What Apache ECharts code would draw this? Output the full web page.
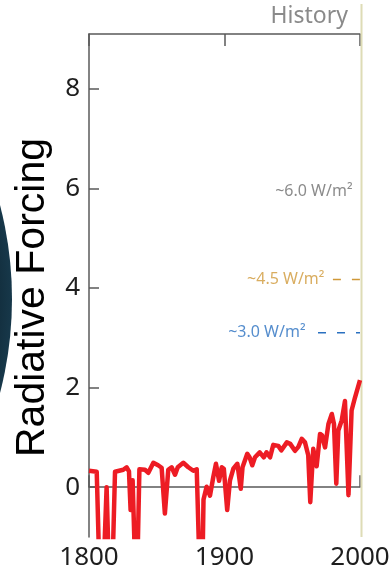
<!DOCTYPE html>
<html><head><meta charset="utf-8">
<script src="https://cdn.jsdelivr.net/npm/echarts@6/dist/echarts.min.js"></script>
<style>html,body{margin:0;padding:0;background:#fff}#c{width:390px;height:577px}</style>
</head><body><div id="c"></div>
<script>
// Historical radiative forcing (W/m²)
const years = [1800,1805.7,1809,1813,1816,1819.2,1825.3,1827.8,1829.5,1830.7,1832.2,1835,1837.2,1841.3,1843.8,1847.5,1851,1853.6,1856,1858.5,1861,1863.5,1865.5,1869.6,1873.3,1877,1879.5,1883,1884.5,1886.8,1889.3,1891.7,1893.7,1896,1898,1899.5,1902,1904,1906.5,1909.5,1912,1913.3,1916.8,1918.5,1920.5,1922.5,1926,1929,1931,1933.6,1936,1939.7,1942,1946,1948.5,1952,1954.5,1957,1959.4,1961.8,1963.3,1965.5,1968,1970.5,1972,1974.2,1976.7,1979.2,1980.8,1982.5,1984,1986.5,1988.9,1990,1991.5,1993.8,1996.3,2000];
const forcing = [0.33,0.31,-3,0,-3,0.31,0.35,0.40,0.32,-0.46,0.14,-2.5,0.36,0.35,0.29,0.49,0.44,0.39,-0.53,0.35,0.40,0.25,0.40,0.49,0.40,0.33,0.36,-3,-0.25,0.01,-0.17,0.20,0.47,0.13,0.40,0.37,-0.46,0.13,0.37,0.47,-0.03,0.40,0.67,0.60,0.44,0.60,0.70,0.60,0.70,0.60,0.85,0.83,0.74,0.90,0.87,0.73,0.81,0.97,0.90,0.64,-0.30,0.77,0.42,1.07,1.04,0.80,1.27,1.47,1.27,0.07,1.14,1.34,1.73,1.73,-0.16,1.54,1.80,2.15];
const yTicks = [0,2,4,6,8];
const xTicks = [1800,1900,2000];
// Scenario markers (RCP levels)
const rcpLabels = ['~6.0 W/m²','~4.5 W/m²','~3.0 W/m²'];
const rcpLevels = [5.93, 4.17, 3.1];
const rcpStart = [2000, 1980, 1969];
const rcpEnd = 2000;
const rcpColors = ['#6e6e6e','#cf9838','#2a70c0'];
const rcpLabelGap = [7, 8, 12];

const chart = echarts.init(document.getElementById('c'), null, {renderer:'canvas'});
const axisCol = '#5a5a5a';
const tickFont = 'Noto Sans';

const series = [{
  type:'line', data: years.map((y,i)=>[y, forcing[i]]), symbol:'none', clip:true,
  lineStyle:{color:'#ed1c24', width:4.5, join:'round'}, z:5
}];
rcpLabels.forEach((lab,i)=>{
  if (rcpStart[i] < rcpEnd) {
    series.push({type:'line', data:[[rcpStart[i], rcpLevels[i]],[rcpEnd, rcpLevels[i]]], symbol:'none',
      lineStyle:{color:rcpColors[i], width:1.5, type:[8,11]}, z:3});
  }
  series.push({type:'scatter', data:[[rcpStart[i], rcpLevels[i]]], symbolSize:1,
    itemStyle:{color:'rgba(0,0,0,0)'}, z:4,
    label:{show:true, position:'left', distance:rcpLabelGap[i], formatter:lab,
      color:rcpColors[i], fontFamily:tickFont, fontSize:16}});
});

chart.setOption({
  animation:false,
  title:{text:'History', right:37, top:0, textStyle:{fontFamily:tickFont, fontSize:23, fontWeight:'normal', color:'#8a8a8a'}},
  grid:{left:89, right:30, top:34, bottom:40, outerBoundsMode:'none', containLabel:false},
  xAxis:[{
    type:'value', min:1800, max:2000, interval:100,
    axisLine:{lineStyle:{color:axisCol, width:1.5}},
    axisTick:{inside:true, length:12, lineStyle:{color:axisCol, width:1.5}},
    axisLabel:{customValues:xTicks, formatter:v=>String(v), fontFamily:tickFont, fontSize:26, color:'#1e1e1e', margin:8},
    splitLine:{show:false}
  },{
    type:'value', position:'top', min:1800, max:2000, interval:100,
    axisLine:{lineStyle:{color:axisCol, width:1.5}},
    axisTick:{inside:true, length:12, lineStyle:{color:axisCol, width:1.5}},
    axisLabel:{show:false}, splitLine:{show:false}
  }],
  yAxis:{
    type:'value', min:-1, max:9.1,
    name:'Radiative Forcing', nameLocation:'middle', nameRotate:90, nameGap:36,
    nameTextStyle:{fontFamily:'Liberation Sans', fontSize:41, color:'#000', padding:[0,24,0,0]},
    axisLine:{show:true, lineStyle:{color:axisCol, width:1.5}},
    axisTick:{show:true, inside:true, length:10, customValues:yTicks, lineStyle:{color:axisCol, width:1.5}},
    axisLabel:{customValues:yTicks, fontFamily:tickFont, fontSize:26, color:'#1e1e1e', margin:9},
    splitLine:{show:false}
  },
  series: series
});

const xr = chart.convertToPixel({xAxisIndex:0}, 2000);
const yb = chart.convertToPixel({yAxisIndex:0}, -1);
chart.setOption({
  graphic:[
    {type:'circle', shape:{cx:-362, cy:299, r:374}, z:-1,
     style:{fill:new echarts.graphic.RadialGradient(0.5,0.5,0.5,[{offset:0.9,color:'#0c1f2b'},{offset:1,color:'#17384a'}])}},
    {type:'line', shape:{x1:xr+1.5, y1:4, x2:xr+1.5, y2:yb}, z:1,
     style:{stroke:'#dedcb6', lineWidth:2}}
  ]
});
</script></body></html>
